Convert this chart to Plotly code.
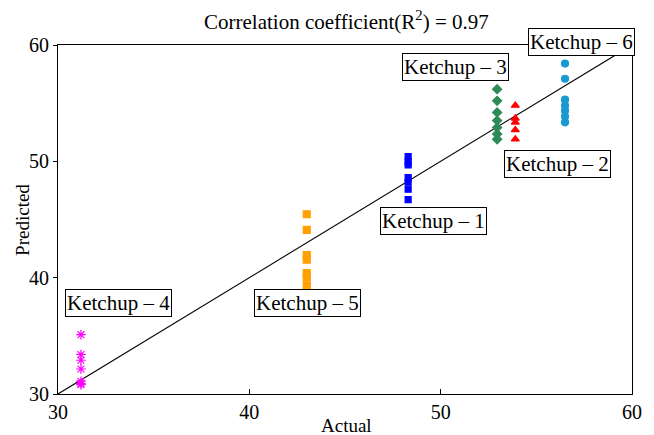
import plotly.graph_objects as go

# Sensory scores: actual (x) vs predicted (y) for each ketchup sample
names = ["Ketchup – 1", "Ketchup – 2", "Ketchup – 3", "Ketchup – 4", "Ketchup – 5", "Ketchup – 6"]
actual = [48.3, 53.9, 52.95, 31.2, 43.0, 56.5]
pred_k1 = [50.4, 49.95, 49.7, 48.6, 48.2, 47.6, 46.7]
pred_k2 = [54.8, 53.7, 53.35, 52.7, 51.9]
pred_k3 = [56.2, 55.2, 54.2, 53.5, 52.9, 52.35, 51.9]
pred_k4 = [35.1, 33.4, 32.9, 32.15, 31.1, 30.9, 30.8]
pred_k5 = [45.45, 44.1, 41.95, 41.55, 40.4, 40.0, 39.3]
pred_k6 = [58.4, 57.1, 55.3, 54.8, 54.35, 53.85, 53.35]
predicted = [pred_k1, pred_k2, pred_k3, pred_k4, pred_k5, pred_k6]

# Label box positions (data coordinates); the last one sits on the top frame
label_x = [49.6, 56.1, 50.8, 33.15, 43.05, 57.35]
label_y = [44.85, 49.75, 58.15, 37.85, 37.8, 60.0]
label_shift = [0, 0, 0, 0, 0, 3]

r_squared = 0.97
ticks = [30, 40, 50, 60]
fit_line = [30, 60]

colors = ["#0000ff", "#ff0000", "#2e8b57", "#ff00ff", "#ffa000", "#1999d1"]
symbols = ["square", "triangle-up", "diamond", "asterisk-open", "square", "circle"]
sizes = [6, 7, 7, 8, 7, 7]

serif = "Liberation Serif, Times New Roman, serif"

fig = go.Figure()

fig.add_trace(go.Scatter(
    x=fit_line, y=fit_line, mode="lines",
    line=dict(color="black", width=1.1), showlegend=False, hoverinfo="skip",
))

for name, xv, yv, c, s, sz in zip(names, actual, predicted, colors, symbols, sizes):
    fig.add_trace(go.Scatter(
        x=[xv] * len(yv), y=yv, mode="markers", name=name,
        marker=dict(symbol=s, size=sz, color=c, line=dict(color=c, width=1.2)),
        showlegend=False,
    ))

for name, lx, ly, sh in zip(names, label_x, label_y, label_shift):
    fig.add_annotation(
        x=lx, y=ly, xref="x", yref="y", yshift=sh, text=name, showarrow=False,
        font=dict(family=serif, size=21, color="black"),
        bgcolor="white", bordercolor="black", borderwidth=1, borderpad=1,
    )

# Title and axis titles
fig.add_annotation(
    x=0.502, y=1.071, xref="paper", yref="paper", yanchor="middle",
    text=f"Correlation coefficient(R<sup>2</sup>) = {r_squared:.2f}",
    showarrow=False, font=dict(family=serif, size=21, color="black"),
)
fig.add_annotation(
    x=0.503, y=-0.09, xref="paper", yref="paper", text="Actual", showarrow=False,
    yanchor="middle", font=dict(family=serif, size=19, color="black"),
)
fig.add_annotation(
    x=-0.062, y=0.5, xref="paper", yref="paper", text="Predicted", showarrow=False,
    xanchor="center", yanchor="middle",
    textangle=-90, font=dict(family=serif, size=19, color="black"),
)

fig.update_layout(
    width=654, height=435,
    margin=dict(l=58, r=18, t=45, b=37),
    paper_bgcolor="white", plot_bgcolor="white",
    font=dict(family=serif, color="black"),
)

fig.update_xaxes(
    range=[30, 60], tickvals=ticks, ticktext=[str(t) for t in ticks],
    showline=True, linecolor="black", linewidth=1, mirror=True,
    ticks="inside", ticklen=5, tickcolor="black", showgrid=False, zeroline=False,
    tickfont=dict(family=serif, size=20, color="black"),
)
fig.update_yaxes(
    range=[30, 60], tickvals=ticks, ticktext=[str(t) for t in ticks],
    showline=True, linecolor="black", linewidth=1, mirror=True,
    ticks="outside", ticklen=4, tickcolor="black", showgrid=False, zeroline=False,
    tickfont=dict(family=serif, size=20, color="black"),
)

fig.write_html("out.html")
